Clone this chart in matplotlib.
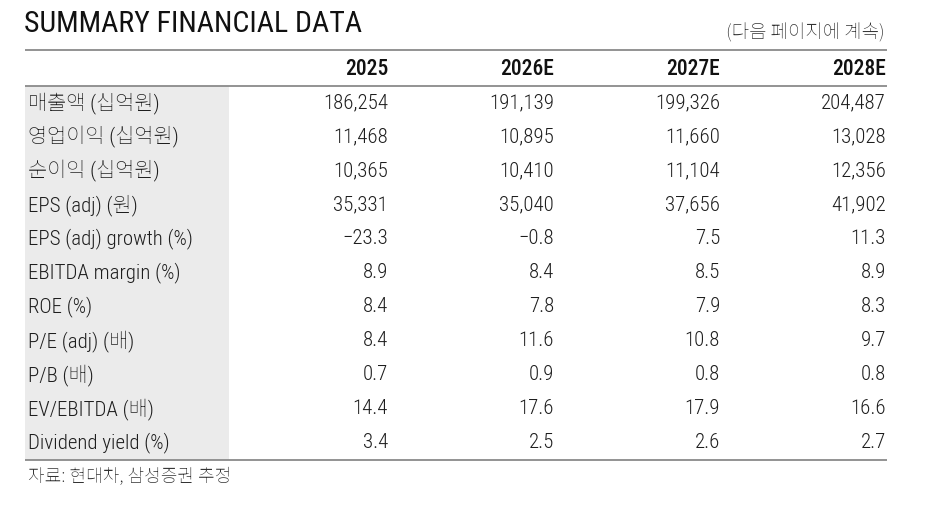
import matplotlib
matplotlib.use("Agg")
import matplotlib.pyplot as plt
from matplotlib import font_manager as fm
from matplotlib.patches import Rectangle

# ---------------- data ----------------
title = "SUMMARY FINANCIAL DATA"
note = "(다음 페이지에 계속)"
source = "자료: 현대차, 삼성증권 추정"
years = ["2025", "2026E", "2027E", "2028E"]
row_labels = [
    "매출액 (십억원)",
    "영업이익 (십억원)",
    "순이익 (십억원)",
    "EPS (adj) (원)",
    "EPS (adj) growth (%)",
    "EBITDA margin (%)",
    "ROE (%)",
    "P/E (adj) (배)",
    "P/B (배)",
    "EV/EBITDA (배)",
    "Dividend yield (%)",
]
v2025 = [186254, 11468, 10365, 35331, -23.3, 8.9, 8.4, 8.4, 0.7, 14.4, 3.4]
v2026 = [191139, 10895, 10410, 35040, -0.8, 8.4, 7.8, 11.6, 0.9, 17.6, 2.5]
v2027 = [199326, 11660, 11104, 37656, 7.5, 8.5, 7.9, 10.8, 0.8, 17.9, 2.6]
v2028 = [204487, 13028, 12356, 41902, 11.3, 8.9, 8.3, 9.7, 0.8, 16.6, 2.7]
integer_rows = 4  # first rows shown as integers with thousands separators

# ---------------- fonts ----------------
names = {f.name for f in fm.fontManager.ttflist}
latin = next((n for n in ["Roboto Condensed", "Liberation Sans Narrow", "Roboto"] if n in names), "DejaVu Sans")
kor = next((n for n in ["Noto Sans CJK KR", "Noto Sans KR", "NanumGothic"] if n in names), "DejaVu Sans")
FAM = [latin, kor, "DejaVu Sans"]
KFAM = [kor, "DejaVu Sans"]

def fmt(v, i):
    if i < integer_rows:
        s = f"{v:,.0f}"
    else:
        s = f"{v:.1f}"
    return s.replace("-", "\u2212")

# ---------------- figure ----------------
W, H = 938, 505
fig = plt.figure(figsize=(W / 100, H / 100), dpi=100)
ax = fig.add_axes([0, 0, 1, 1])
ax.set_xlim(0, W)
ax.set_ylim(H, 0)
ax.axis("off")

left, right = 25, 887
label_right = 229
top_line, head_line = 50, 86
row_h = 34
col_right0, col_step = 388, 166
n = len(row_labels)
bottom_line = head_line + n * row_h

line_c = "#8a8a8a"
txt_c = "#1e1e1e"

# title & note
ax.text(left - 1, 24, title, family=FAM, fontsize=21.5, fontweight="normal",
        color="#111111", ha="left", va="center")
ax.text(right - 2, 33, note, family=KFAM, fontsize=13.6, color="#333333",
        style="italic", ha="right", va="center")

# grey label band
ax.add_patch(Rectangle((left, head_line), label_right - left, n * row_h,
                       facecolor="#ebebeb", edgecolor="none", zorder=0))

# lines
for y in (top_line, head_line, bottom_line):
    ax.plot([left, right], [y, y], color=line_c, lw=1.3, solid_capstyle="butt", zorder=2)

# header
for j, yr in enumerate(years):
    ax.text(col_right0 + j * col_step, 69, yr, family=FAM, fontsize=15.5,
            fontweight="medium", color="#111111", ha="right", va="center")

# body
cols = [v2025, v2026, v2027, v2028]
for i, lab in enumerate(row_labels):
    yc = head_line + (i + 0.5) * row_h
    ax.text(left + 3, yc, lab, family=FAM, fontsize=15, fontweight="light",
            color=txt_c, ha="left", va="center")
    for j, col in enumerate(cols):
        ax.text(col_right0 + j * col_step, yc, fmt(col[i], i), family=FAM,
                fontsize=15, fontweight="light", color=txt_c, ha="right", va="center")

# source
ax.text(left + 3, bottom_line + 17, source, family=KFAM, fontsize=13, color="#333333",
        ha="left", va="center")

fig.savefig("out.png", dpi=100)
